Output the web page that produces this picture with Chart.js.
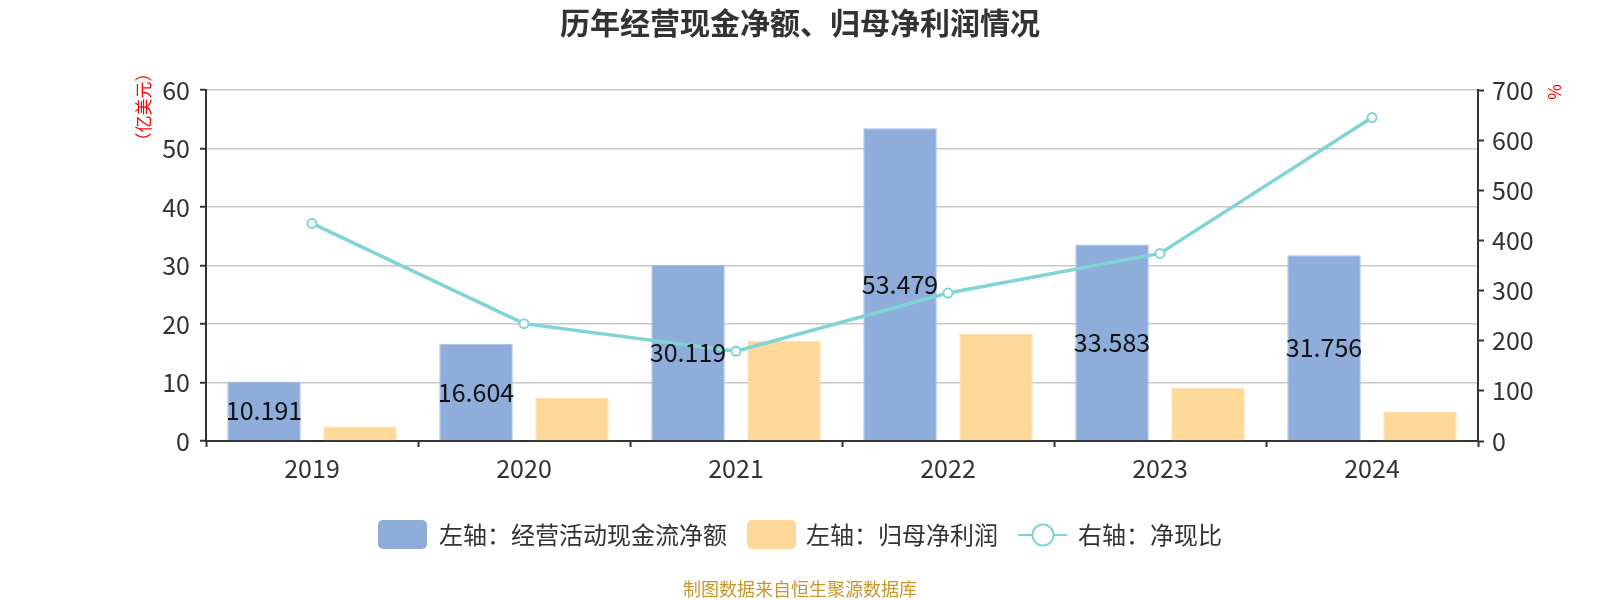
<!DOCTYPE html>
<html><head><meta charset="utf-8">
<script src="https://cdn.jsdelivr.net/npm/chart.js@4.4.1/dist/chart.umd.min.js"></script>
<style>html,body{margin:0;padding:0;background:#fff;}#wrap{width:1600px;height:600px;position:relative;}</style>
</head><body><div id="wrap"><canvas id="c" width="1600" height="600"></canvas></div>
<script>
const categories = ['2019','2020','2021','2022','2023','2024'];
const cashFlow = [10.191, 16.604, 30.119, 53.479, 33.583, 31.756];
const netProfit = [2.5, 7.35, 17.1, 18.35, 9.1, 5.05];
const cashRatio = [434, 234, 179, 295, 374, 645];
const leftTicks = [0,10,20,30,40,50,60];
const rightTicks = [0,100,200,300,400,500,600,700];
const titleText = '历年经营现金净额、归母净利润情况';
const leftAxisName = '（亿美元）';
const rightAxisName = '%';
const legendLabels = ['左轴：经营活动现金流净额','左轴：归母净利润','右轴：净现比'];
const footerText = '制图数据来自恒生聚源数据库';

const FONT = '"Noto Sans CJK SC","Noto Sans",sans-serif';
const BLUE = '#8eaddb', ORANGE = '#fed899', TEAL = '#80d4d6';
const CX = 800;

const decor = {
  id: 'decor',
  afterDatasetsDraw(chart) {
    const ctx = chart.ctx;
    const meta = chart.getDatasetMeta(0);
    ctx.save();
    ctx.font = '25px ' + FONT;
    ctx.fillStyle = '#111';
    ctx.textAlign = 'center';
    ctx.textBaseline = 'middle';
    meta.data.forEach((el, i) => {
      ctx.fillText(cashFlow[i].toFixed(3), el.x, (el.y + el.base) / 2);
    });
    ctx.restore();
  },
  afterDraw(chart) {
    const ctx = chart.ctx;
    ctx.save();
    ctx.font = 'bold 30px ' + FONT;
    ctx.fillStyle = '#333';
    ctx.textAlign = 'center';
    ctx.textBaseline = 'middle';
    ctx.fillText(titleText, CX, 23);
    ctx.fillStyle = '#f00';
    ctx.font = '17px ' + FONT;
    ctx.save();
    ctx.translate(144, 107);
    ctx.rotate(-Math.PI / 2);
    ctx.fillText(leftAxisName, 0, 0);
    ctx.restore();
    ctx.save();
    ctx.translate(1555, 92);
    ctx.rotate(-Math.PI / 2);
    ctx.fillText(rightAxisName, 0, 0);
    ctx.restore();
    // legend
    ctx.font = '24px ' + FONT;
    ctx.textAlign = 'left';
    ctx.fillStyle = BLUE;
    ctx.beginPath(); ctx.roundRect(378, 520, 49, 29, 5); ctx.fill();
    ctx.fillStyle = '#333';
    ctx.fillText(legendLabels[0], 439, 535);
    ctx.fillStyle = ORANGE;
    ctx.beginPath(); ctx.roundRect(747, 520, 49, 29, 5); ctx.fill();
    ctx.fillStyle = '#333';
    ctx.fillText(legendLabels[1], 806, 535);
    ctx.strokeStyle = TEAL; ctx.lineWidth = 2;
    ctx.beginPath(); ctx.moveTo(1018, 535); ctx.lineTo(1067, 535); ctx.stroke();
    ctx.beginPath(); ctx.arc(1043, 535, 10.5, 0, Math.PI * 2);
    ctx.fillStyle = '#fff'; ctx.fill(); ctx.stroke();
    ctx.fillStyle = '#333';
    ctx.fillText(legendLabels[2], 1078, 535);
    // footer
    ctx.font = '18px ' + FONT;
    ctx.fillStyle = '#c9962c';
    ctx.textAlign = 'center';
    ctx.fillText(footerText, CX, 589);
    ctx.restore();
  }
};

new Chart(document.getElementById('c'), {
  type: 'bar',
  data: {
    labels: categories,
    datasets: [
      { label: legendLabels[0], data: cashFlow, backgroundColor: BLUE, borderColor: '#a9c1e6', borderWidth: 1, yAxisID: 'y', order: 2, categoryPercentage: 0.905, barPercentage: 0.766 },
      { label: legendLabels[1], data: netProfit, backgroundColor: ORANGE, borderColor: '#fee2b0', borderWidth: 1, yAxisID: 'y', order: 2, categoryPercentage: 0.905, barPercentage: 0.766 },
      { type: 'line', label: legendLabels[2], data: cashRatio, borderColor: TEAL, borderWidth: 3.5, pointRadius: 4.5, pointBorderWidth: 2, pointBackgroundColor: '#fff', pointBorderColor: TEAL, yAxisID: 'y1', order: 1, tension: 0 }
    ]
  },
  options: {
    responsive: false,
    animation: false,
    devicePixelRatio: 1,
    layout: { padding: { top: 90, left: 0, right: 0, bottom: 0 } },
    plugins: { legend: { display: false }, title: { display: false }, tooltip: { enabled: false } },
    scales: {
      x: {
        afterFit(s) { s.height = 159; },
        grid: { offset: true, drawOnChartArea: false, tickLength: 6, tickColor: '#333', tickWidth: 2 },
        border: { color: '#333', width: 2 },
        ticks: { color: '#333', font: { size: 25, family: FONT }, padding: 6 }
      },
      y: {
        position: 'left',
        min: 0, max: 60,
        afterFit(s) { s.width = 206; },
        afterBuildTicks(s) { s.ticks = leftTicks.map(v => ({ value: v })); },
        grid: { color: '#c8c8c8', lineWidth: 1.5, tickLength: 6, tickColor: '#333', tickWidth: 2 },
        border: { color: '#333', width: 2 },
        ticks: { color: '#333', font: { size: 25, family: FONT }, padding: 10 }
      },
      y1: {
        position: 'right',
        min: 0, max: 700,
        afterFit(s) { s.width = 122; },
        afterBuildTicks(s) { s.ticks = rightTicks.map(v => ({ value: v })); },
        grid: { drawOnChartArea: false, tickLength: 6, tickColor: '#333', tickWidth: 2 },
        border: { color: '#333', width: 2 },
        ticks: { color: '#333', font: { size: 25, family: FONT }, padding: 8 }
      }
    }
  },
  plugins: [decor]
});
</script></body></html>
